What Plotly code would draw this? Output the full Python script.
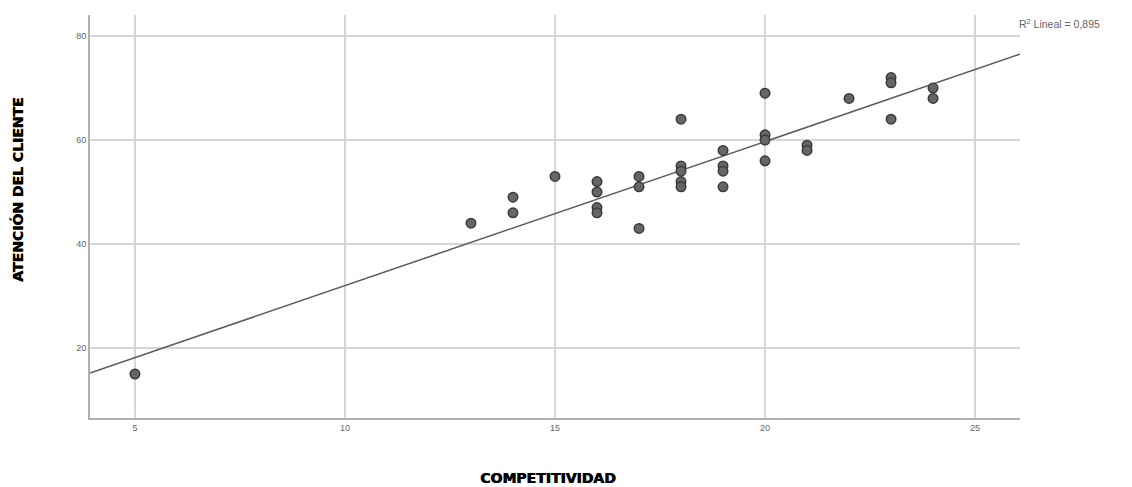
import plotly.graph_objects as go

# Data
competitividad = [5, 13, 14, 14, 15, 16, 16, 16, 16, 17, 17, 17,
                  18, 18, 18, 18, 18, 19, 19, 19, 19, 20, 20, 20, 20,
                  21, 21, 22, 23, 23, 23, 24, 24]
atencion = [15, 44, 49, 46, 53, 52, 50, 47, 46, 53, 51, 43,
            64, 55, 54, 52, 51, 58, 55, 54, 51, 69, 61, 60, 56,
            59, 58, 68, 72, 71, 64, 70, 68]
# Linear fit line as drawn in the reference (intercept, slope)
fit_intercept = 4.3
fit_slope = 2.77
x_ticks = [5, 10, 15, 20, 25]
y_ticks = [20, 40, 60, 80]
r2_label = "R<sup>2</sup> Lineal = 0,895"
x_title = "COMPETITIVIDAD"
y_title = "ATENCIÓN DEL CLIENTE"

x_range = [3.93, 26.07]
y_range = [6.54, 84.04]

fit_x = list(x_range)
fit_y = [fit_intercept + fit_slope * v for v in fit_x]

fig = go.Figure()
fig.add_trace(go.Scatter(
    x=fit_x, y=fit_y, mode="lines",
    line=dict(color="#5a5a5a", width=1.5),
    hoverinfo="skip", showlegend=False))
fig.add_trace(go.Scatter(
    x=competitividad, y=atencion, mode="markers",
    marker=dict(symbol="circle", size=9.5, color="#666666",
                line=dict(color="#3a3a3a", width=1.5)),
    showlegend=False))

fig.update_layout(
    width=1132, height=487,
    margin=dict(l=90, r=112, t=15, b=69),
    paper_bgcolor="white", plot_bgcolor="white",
    font=dict(family="Liberation Sans, Arial, sans-serif", color="#555"),
    showlegend=False,
)
fig.update_xaxes(
    range=x_range, tickvals=x_ticks,
    showgrid=True, gridcolor="#d6d6d6", gridwidth=2,
    showline=True, linecolor="#b0b0b0", linewidth=2,
    zeroline=False, ticks="", tickfont=dict(size=9, color="#666"))
fig.update_yaxes(
    range=y_range, tickvals=y_ticks,
    showgrid=True, gridcolor="#d6d6d6", gridwidth=1.5,
    showline=True, linecolor="#b0b0b0", linewidth=2,
    zeroline=False, ticks="", tickfont=dict(size=9, color="#666"))

title_font = dict(family="DejaVu Sans", size=14, color="#000000",
                  weight="bold", shadow="0.7px 0px 0px #000")
fig.add_annotation(
    text=x_title, xref="paper", yref="paper",
    x=0.4925, y=-0.149, xanchor="center", yanchor="middle",
    showarrow=False, font=title_font)
fig.add_annotation(
    text=y_title, xref="paper", yref="paper",
    x=-0.0774, y=0.566, xanchor="center", yanchor="middle",
    textangle=-90, showarrow=False, font=title_font)
fig.add_annotation(
    text=r2_label, xref="paper", yref="paper",
    x=0.997, y=0.978, xanchor="left", yanchor="middle",
    showarrow=False,
    font=dict(family="Liberation Sans", size=10.5, color="#666"))

fig.write_html("out.html")
